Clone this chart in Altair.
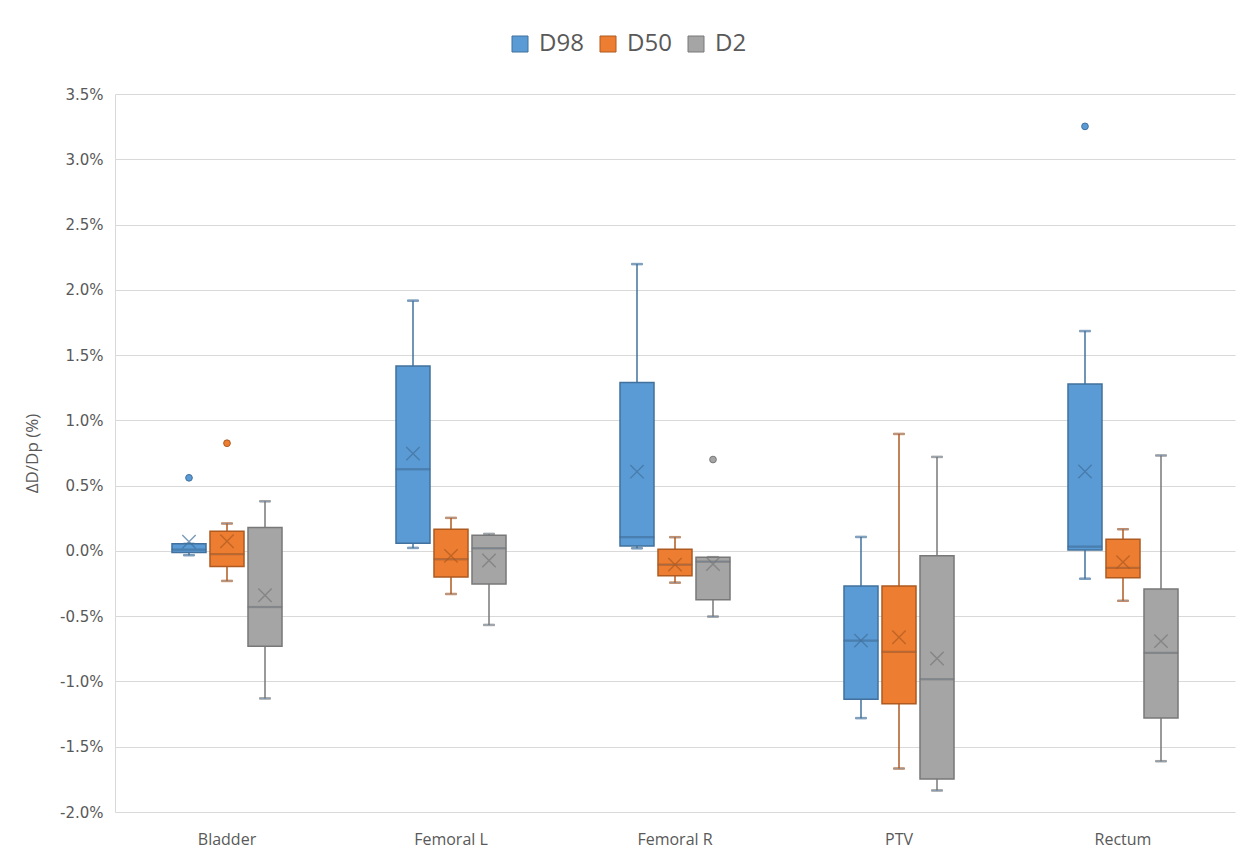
import altair as alt
import pandas as pd

categories = ["Bladder", "Femoral L", "Femoral R", "PTV", "Rectum"]
series = ["D98", "D50", "D2"]

# values in percent, ordered category-major, series-minor (D98, D50, D2)
whisker_low = [-0.033, -0.23, -1.13,
               0.023, -0.33, -0.567,
               0.02, -0.243, -0.503,
               -1.281, -1.667, -1.835,
               -0.213, -0.382, -1.611]
q1 = [-0.013, -0.12, -0.73,
      0.059, -0.20, -0.253,
      0.038, -0.19, -0.375,
      -1.136, -1.171, -1.748,
      0.007, -0.206, -1.279]
median = [0.01, -0.025, -0.43,
          0.625, -0.064, 0.02,
          0.105, -0.105, -0.082,
          -0.687, -0.773, -0.983,
          0.033, -0.13, -0.781]
q3 = [0.054, 0.15, 0.18,
      1.417, 0.166, 0.12,
      1.29, 0.013, -0.048,
      -0.268, -0.268, -0.038,
      1.279, 0.09, -0.292]
whisker_high = [0.054, 0.21, 0.38,
                1.917, 0.253, 0.13,
                2.197, 0.105, -0.048,
                0.107, 0.896, 0.72,
                1.684, 0.166, 0.731]
mean = [0.07, 0.074, -0.34,
        0.745, -0.038, -0.074,
        0.607, -0.105, -0.10,
        -0.687, -0.661, -0.824,
        0.608, -0.086, -0.691]

outlier_cat = ["Bladder", "Bladder", "Femoral R", "Rectum"]
outlier_series = ["D98", "D50", "D2", "D98"]
outlier_value = [0.56, 0.825, 0.70, 3.252]

fill_colors = ["#5b9bd5", "#ed7d31", "#a5a5a5"]
stroke_colors = ["#41719c", "#ae5a21", "#787878"]

rows = []
i = 0
for c in categories:
    for s in series:
        rows.append(dict(cat=c, series=s, wlo=whisker_low[i], q1=q1[i], med=median[i],
                         q3=q3[i], whi=whisker_high[i], mean=mean[i]))
        i += 1
df = pd.DataFrame(rows)
out = pd.DataFrame(dict(cat=outlier_cat, series=outlier_series, value=outlier_value))

y_ticks = [-2.0, -1.5, -1.0, -0.5, 0.0, 0.5, 1.0, 1.5, 2.0, 2.5, 3.0, 3.5]

X = alt.X("cat:N", sort=categories,
          scale=alt.Scale(paddingInner=0.491, paddingOuter=0.2455),
          axis=alt.Axis(title=None, labelAngle=0, domain=False, ticks=False, grid=False,
                        labelFont="Open Sans", labelFontSize=16, labelColor="#595959",
                        labelPadding=19))
XO = alt.XOffset("series:N", sort=series,
                 scale=alt.Scale(domain=series, paddingInner=0.105, paddingOuter=0.0526))
yscale = alt.Scale(domain=[-2.0, 3.5], nice=False, zero=False)
yaxis = alt.Axis(values=y_ticks,
                 labelExpr="replace(format(datum.value, '.1f'), '\u2212', '-') + '%'",
                 title="ΔD/Dp (%)", titleFont="Open Sans", titleFontSize=17,
                 titleFontWeight="normal", titleColor="#595959", titlePadding=18,
                 labelFont="DejaVu Sans", labelFontSize=15, labelColor="#595959",
                 labelPadding=12, grid=True, gridColor="#d9d9d9", domain=True,
                 domainColor="#d9d9d9", ticks=False)

FILL = alt.Fill("series:N", sort=series,
                scale=alt.Scale(domain=series, range=fill_colors),
                legend=alt.Legend(title=None))
STROKE = alt.Stroke("series:N", sort=series,
                    scale=alt.Scale(domain=series, range=stroke_colors),
                    legend=alt.Legend(title=None))

base = alt.Chart(df)

whiskers = base.mark_rule(strokeWidth=1.5).encode(
    x=X, xOffset=XO,
    y=alt.Y("wlo:Q", scale=yscale, axis=yaxis), y2="whi:Q", stroke=STROKE)

cap_lo = base.mark_tick(size=11, thickness=1.5).encode(
    x=X, xOffset=XO, y=alt.Y("wlo:Q", scale=yscale), stroke=STROKE)
cap_hi = base.mark_tick(size=11, thickness=1.5).encode(
    x=X, xOffset=XO, y=alt.Y("whi:Q", scale=yscale), stroke=STROKE)

boxes = base.mark_bar(strokeWidth=1.5).encode(
    x=X, xOffset=XO, y=alt.Y("q1:Q", scale=yscale), y2="q3:Q", fill=FILL, stroke=STROKE)

medians = base.mark_tick(size=34, thickness=1.2).encode(
    x=X, xOffset=XO, y=alt.Y("med:Q", scale=yscale), stroke=STROKE)

means = base.mark_point(shape="M-1,-1L1,1M1,-1L-1,1", filled=False, size=180,
                        strokeWidth=1.4).encode(
    x=X, xOffset=XO, y=alt.Y("mean:Q", scale=yscale), stroke=STROKE)

outliers = alt.Chart(out).mark_point(filled=True, size=45, opacity=1, strokeWidth=1).encode(
    x=X, xOffset=XO, y=alt.Y("value:Q", scale=yscale), fill=FILL, stroke=STROKE)

chart = alt.layer(whiskers, cap_lo, cap_hi, boxes, medians, means, outliers).properties(
    width=1120, height=718,
    autosize=alt.AutoSizeParams(type="none"),
    padding={"left": 107, "top": 86, "right": 5, "bottom": 45},
).configure_view(stroke=None).configure_legend(
    orient="none", legendX=393, legendY=-62, direction="horizontal",
    symbolType="square", symbolSize=256, symbolStrokeWidth=1, symbolOpacity=1,
    labelFont="Open Sans", labelFontSize=24, labelColor="#595959",
    labelOffset=7, columnPadding=12, padding=0,
)

chart.save("out.html", embed_options={"renderer": "svg", "actions": False})
